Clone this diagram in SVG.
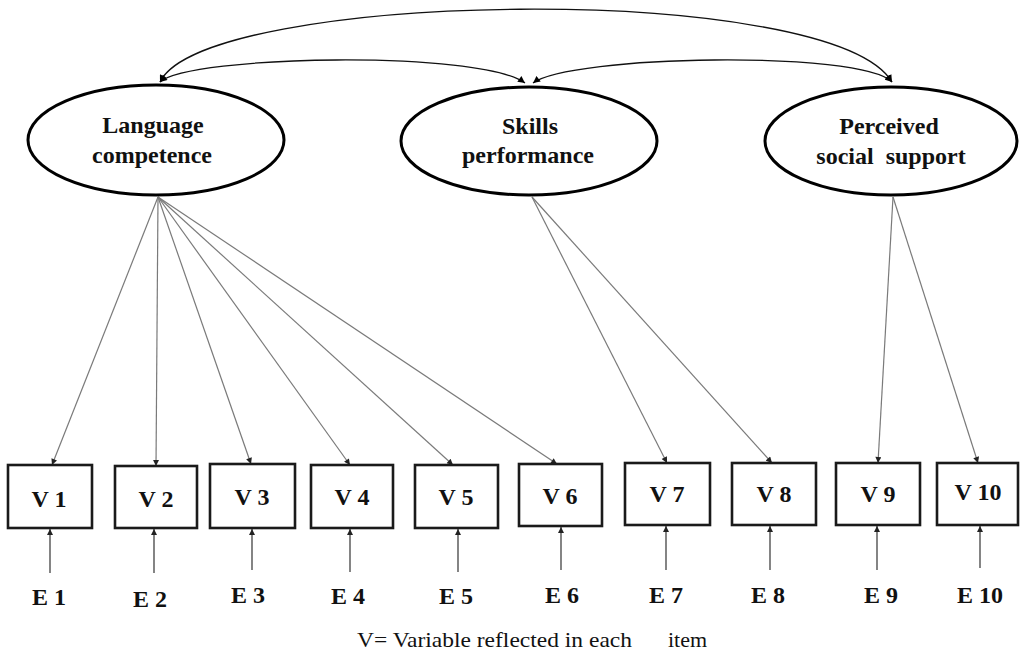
<svg xmlns="http://www.w3.org/2000/svg" width="1021" height="653" viewBox="0 0 1021 653" font-family="Liberation Serif, Times New Roman, DejaVu Serif, serif">
<style>
.bg{fill:#fff}
.lat{fill:#fff;stroke:#000;stroke-width:3}
.box{fill:#fff;stroke:#1a1a1a;stroke-width:2.6}
.t{font-weight:bold;font-size:24px;fill:#111;text-anchor:middle}
.cap{font-size:22px;fill:#111}
.cov{fill:none;stroke:#111;stroke-width:1.3;marker-start:url(#ah);marker-end:url(#ah)}
.load{fill:none;stroke:#7a7a7a;stroke-width:1.2;marker-end:url(#ag)}
.err{fill:none;stroke:#666;stroke-width:1.6;marker-end:url(#ag)}
</style>
<defs>
<marker id="ah" viewBox="0 0 10 10" refX="10" refY="5" markerWidth="8" markerHeight="7" markerUnits="userSpaceOnUse" orient="auto-start-reverse">
<path d="M0,0 L10,5 L0,10 z" fill="#000"/>
</marker>
<marker id="ag" viewBox="0 0 10 10" refX="10" refY="5" markerWidth="7" markerHeight="6" markerUnits="userSpaceOnUse" orient="auto">
<path d="M0,0 L10,5 L0,10 z" fill="#222"/>
</marker>
</defs>
<rect class="bg" x="0" y="0" width="1021" height="653"/>
<g id="connectors">
<path class="cov" d="M160,82 C205,-10 830,-20 892,82"/>
<path class="cov" d="M160,82 C190,55 480,50 525,83"/>
<path class="cov" d="M533,83 C570,55 860,50 892,82"/>
<line class="load" x1="158" y1="197" x2="52" y2="465"/>
<line class="load" x1="158" y1="197" x2="156" y2="466"/>
<line class="load" x1="158" y1="197" x2="251" y2="464"/>
<line class="load" x1="158" y1="197" x2="350" y2="465"/>
<line class="load" x1="158" y1="197" x2="453" y2="465"/>
<line class="load" x1="158" y1="197" x2="557" y2="464"/>
<line class="load" x1="532" y1="197" x2="667" y2="463"/>
<line class="load" x1="532" y1="197" x2="772" y2="463"/>
<line class="load" x1="893" y1="197" x2="878" y2="463"/>
<line class="load" x1="893" y1="197" x2="978" y2="463"/>
<line class="err" x1="50" y1="573" x2="50" y2="529"/>
<line class="err" x1="154" y1="573" x2="154" y2="529"/>
<line class="err" x1="252" y1="570" x2="252" y2="529"/>
<line class="err" x1="350" y1="572" x2="350" y2="529"/>
<line class="err" x1="458" y1="572" x2="458" y2="529"/>
<line class="err" x1="561" y1="570" x2="561" y2="527"/>
<line class="err" x1="666" y1="570" x2="666" y2="526"/>
<line class="err" x1="770" y1="570" x2="770" y2="526"/>
<line class="err" x1="877" y1="570" x2="877" y2="526"/>
<line class="err" x1="980" y1="568" x2="980" y2="526"/>
</g>
<g id="lang">
<ellipse class="lat" cx="156" cy="140" rx="128" ry="55"/>
<text class="t" x="153" y="133">Language</text>
<text class="t" x="152" y="163">competence</text>
</g>
<g id="skills">
<ellipse class="lat" cx="529" cy="141" rx="128" ry="54"/>
<text class="t" x="530" y="134">Skills</text>
<text class="t" x="528" y="163">performance</text>
</g>
<g id="social">
<ellipse class="lat" cx="891" cy="141" rx="126" ry="54"/>
<text class="t" x="889" y="134">Perceived</text>
<text class="t" x="891" y="164" xml:space="preserve">social  support</text>
</g>
<g id="v1"><rect class="box" x="8" y="465" width="84" height="63"/><text class="t" x="49" y="507">V 1</text></g>
<g id="v2"><rect class="box" x="115" y="466" width="82" height="62"/><text class="t" x="156" y="507">V 2</text></g>
<g id="v3"><rect class="box" x="210" y="464" width="85" height="64"/><text class="t" x="252" y="505">V 3</text></g>
<g id="v4"><rect class="box" x="311" y="465" width="82" height="63"/><text class="t" x="352" y="505">V 4</text></g>
<g id="v5"><rect class="box" x="415" y="465" width="83" height="63"/><text class="t" x="456" y="505">V 5</text></g>
<g id="v6"><rect class="box" x="519" y="464" width="83" height="62"/><text class="t" x="560" y="504">V 6</text></g>
<g id="v7"><rect class="box" x="625" y="463" width="85" height="62"/><text class="t" x="667" y="502">V 7</text></g>
<g id="v8"><rect class="box" x="732" y="463" width="84" height="62"/><text class="t" x="774" y="502">V 8</text></g>
<g id="v9"><rect class="box" x="836" y="463" width="84" height="62"/><text class="t" x="878" y="502">V 9</text></g>
<g id="v10"><rect class="box" x="937" y="463" width="81" height="62"/><text class="t" x="978" y="500">V 10</text></g>
<g id="e1"><text class="t" x="49" y="605">E 1</text></g>
<g id="e2"><text class="t" x="150" y="607">E 2</text></g>
<g id="e3"><text class="t" x="248" y="603">E 3</text></g>
<g id="e4"><text class="t" x="348" y="604">E 4</text></g>
<g id="e5"><text class="t" x="456" y="604">E 5</text></g>
<g id="e6"><text class="t" x="562" y="603">E 6</text></g>
<g id="e7"><text class="t" x="666" y="603">E 7</text></g>
<g id="e8"><text class="t" x="768" y="603">E 8</text></g>
<g id="e9"><text class="t" x="881" y="603">E 9</text></g>
<g id="e10"><text class="t" x="980" y="603">E 10</text></g>
<g id="caption">
<text class="cap" x="357" y="647" textLength="275" lengthAdjust="spacingAndGlyphs">V= Variable reflected in each</text>
<text class="cap" x="668" y="647">item</text>
</g>
</svg>
